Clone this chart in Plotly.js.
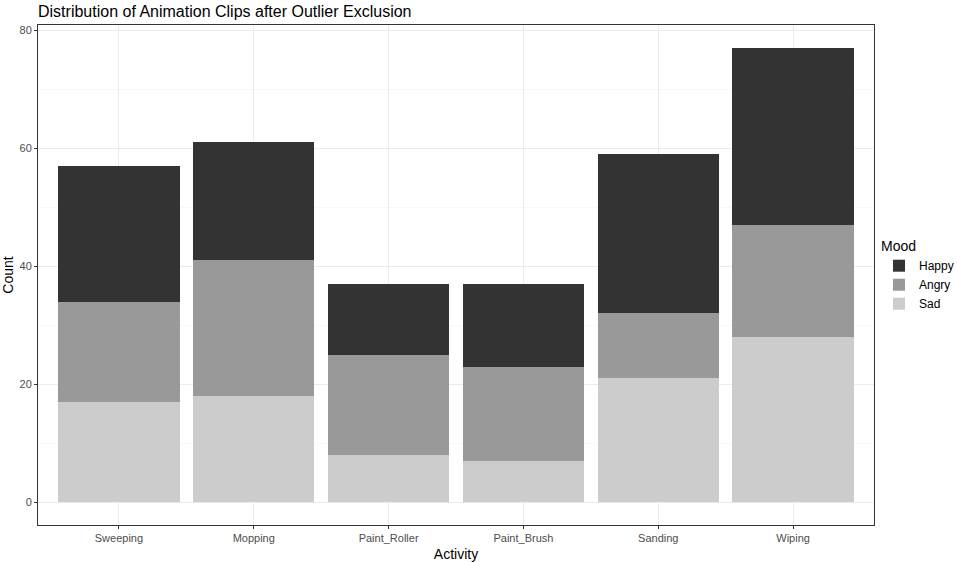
<!DOCTYPE html>
<html>
<head>
<meta charset="utf-8">
<script src="https://cdn.plot.ly/plotly-3.0.1.min.js"></script>
<style>
  body { margin: 0; background: #ffffff; }
  #chart { width: 957px; height: 562px; }
</style>
</head>
<body>
<div id="chart"></div>
<script>
const activities = ["Sweeping", "Mopping", "Paint_Roller", "Paint_Brush", "Sanding", "Wiping"];
const sad   = [17, 18, 8, 7, 21, 28];
const angry = [17, 23, 17, 16, 11, 19];
const happy = [23, 20, 12, 14, 27, 30];

function mood_trace(name, values, color) {
    return {
        x: activities,
        y: values,
        name: name,
        type: 'bar',
        width: 0.9,
        marker: { color: color, line: { width: 0 } },
        hoverinfo: 'x+y+name'
    };
}

const tickfont = { family: 'Liberation Sans, Arial, sans-serif', size: 11, color: '#4D4D4D' };
const titlefont = { family: 'Liberation Sans, Arial, sans-serif', size: 14, color: '#000000' };

Plotly.newPlot('chart', [
    mood_trace('Sad', sad, '#CCCCCC'),
    mood_trace('Angry', angry, '#999999'),
    mood_trace('Happy', happy, '#333333')
], {
    barmode: 'stack',
    width: 957,
    height: 562,
    paper_bgcolor: '#ffffff',
    plot_bgcolor: '#ffffff',
    margin: { l: 38, r: 83, t: 25, b: 37, autoexpand: false },
    title: {
        text: 'Distribution of Animation Clips after Outlier Exclusion',
        font: { family: 'Liberation Sans, Arial, sans-serif', size: 16, color: '#000000' },
        x: 38 / 957, xanchor: 'left',
        y: 1 - 11 / 562, yanchor: 'middle'
    },
    xaxis: {
        title: { text: 'Activity', font: titlefont, standoff: 8 },
        tickfont: tickfont,
        range: [-0.6, 5.6],
        showgrid: true,
        gridcolor: '#EBEBEB',
        gridwidth: 1,
        ticks: 'outside', ticklen: 3, tickcolor: '#333333',
        showline: true, linecolor: '#333333', linewidth: 1, mirror: true,
        zeroline: false,
        fixedrange: true
    },
    yaxis: {
        title: { text: 'Count', font: titlefont, standoff: 6 },
        tickfont: tickfont,
        range: [-3.85, 80.85],
        tickvals: [0, 20, 40, 60, 80],
        showgrid: true,
        gridcolor: '#EBEBEB',
        gridwidth: 1,
        minor: { tickvals: [10, 30, 50, 70], showgrid: true, gridcolor: '#F3F3F3', gridwidth: 0.6, ticks: '' },
        ticks: 'outside', ticklen: 3, tickcolor: '#333333',
        showline: true, linecolor: '#333333', linewidth: 1, mirror: true,
        zeroline: false,
        fixedrange: true
    },
    legend: {
        title: { text: 'Mood', font: { family: 'Liberation Sans, Arial, sans-serif', size: 14, color: '#000000' } },
        traceorder: 'reversed',
        xref: 'container', yref: 'container',
        x: 879 / 957, xanchor: 'left',
        y: 1 - 276 / 562, yanchor: 'middle',
        font: { family: 'Liberation Sans, Arial, sans-serif', size: 12, color: '#000000' },
        bgcolor: 'rgba(0,0,0,0)'
    },
    bargap: 0.1
}, { displayModeBar: false, staticPlot: true });
</script>
</body>
</html>
